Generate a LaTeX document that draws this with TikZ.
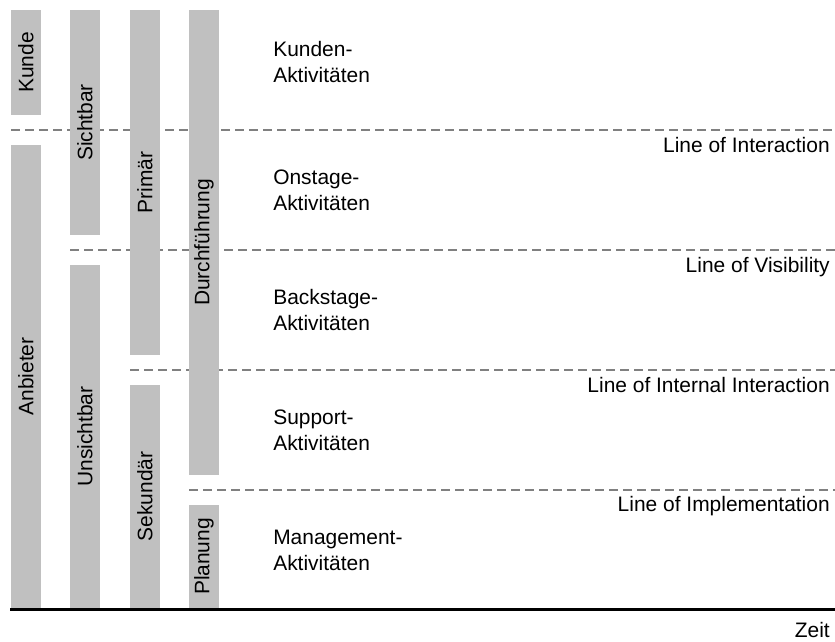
\documentclass[tikz,border=0pt]{standalone}
\usepackage{fontspec}
\setmainfont{Liberation Sans}
\usepackage{tikz}
\usetikzlibrary{positioning, calc}
\usepackage{xcolor}
\definecolor{bargray}{RGB}{192,192,192}
\definecolor{linegray}{RGB}{128,128,128}

\begin{document}
\begin{tikzpicture}[
  x=0.025cm, y=-0.025cm,
  every node/.style={font=\fontsize{14.9}{18.5}\selectfont, inner sep=0pt},
  bar/.style={fill=bargray, rotate=90, minimum height=0.75cm},
  sep/.style={linegray, line width=0.0375cm, dash pattern=on 0.225cm off 0.125cm},
  linelbl/.style={anchor=base east},
  akt/.style={anchor=west, align=left}
]
\useasboundingbox (0,0) rectangle (835,641);

% ── Trennlinien ─────────────────────────────────────────
\coordinate (ia1) at (11,130);  \coordinate (ia2) at (835,130);
\coordinate (vi1) at (70,250);  \coordinate (vi2) at (835,250);
\coordinate (ii1) at (130,370); \coordinate (ii2) at (835,370);
\coordinate (im1) at (189,490); \coordinate (im2) at (835,490);
\draw[sep] (ia1)--(ia2);
\draw[sep] (vi1)--(vi2);
\draw[sep] (ii1)--(ii2);
\draw[sep] (im1)--(im2);
\node[linelbl] (lia) at (830,152) {Line of Interaction};
\node[linelbl] (lvi) at (830,272) {Line of Visibility};
\node[linelbl] (lii) at (830,392) {Line of Internal Interaction};
\node[linelbl] (lim) at (830,511) {Line of Implementation};

% ── Balken ──────────────────────────────────────────────
\node[bar, minimum width=2.625cm]  (kunde)  at (26,62.5)   {Kunde};
\node[bar, minimum width=11.575cm] (anb)    at (26,376.5)  {Anbieter};
\node[bar, minimum width=5.625cm]  (sicht)  at (85,122.5)  {Sichtbar};
\node[bar, minimum width=8.575cm]  (unsicht) at (85,436.5) {Unsichtbar};
\node[bar, minimum width=8.625cm]  (prim)   at (145,182.5) {Primär};
\node[bar, minimum width=5.575cm]  (sek)    at (145,496.5) {Sekundär};
\node[bar, minimum width=11.625cm] (durch)  at (204,242.5) {Durchführung};
\node[bar, minimum width=2.575cm]  (plan)   at (204,556.5) {Planung};

% ── Aktivitäten ─────────────────────────────────────────
\node[akt] (kakt) at (273,62)  {Kunden-\\Aktivitäten};
\node[akt] (oakt) at (273,190) {Onstage-\\Aktivitäten};
\node[akt] (bakt) at (273,310) {Backstage-\\Aktivitäten};
\node[akt] (sakt) at (273,430) {Support-\\Aktivitäten};
\node[akt] (makt) at (273,550) {Management-\\Aktivitäten};

% ── Zeitachse ───────────────────────────────────────────
\coordinate (z1) at (10,609.5); \coordinate (z2) at (835,609.5);
\draw[line width=0.075cm] (z1)--(z2);
\node[anchor=base east] (zeit) at (830,637) {Zeit};

\end{tikzpicture}
\end{document}
